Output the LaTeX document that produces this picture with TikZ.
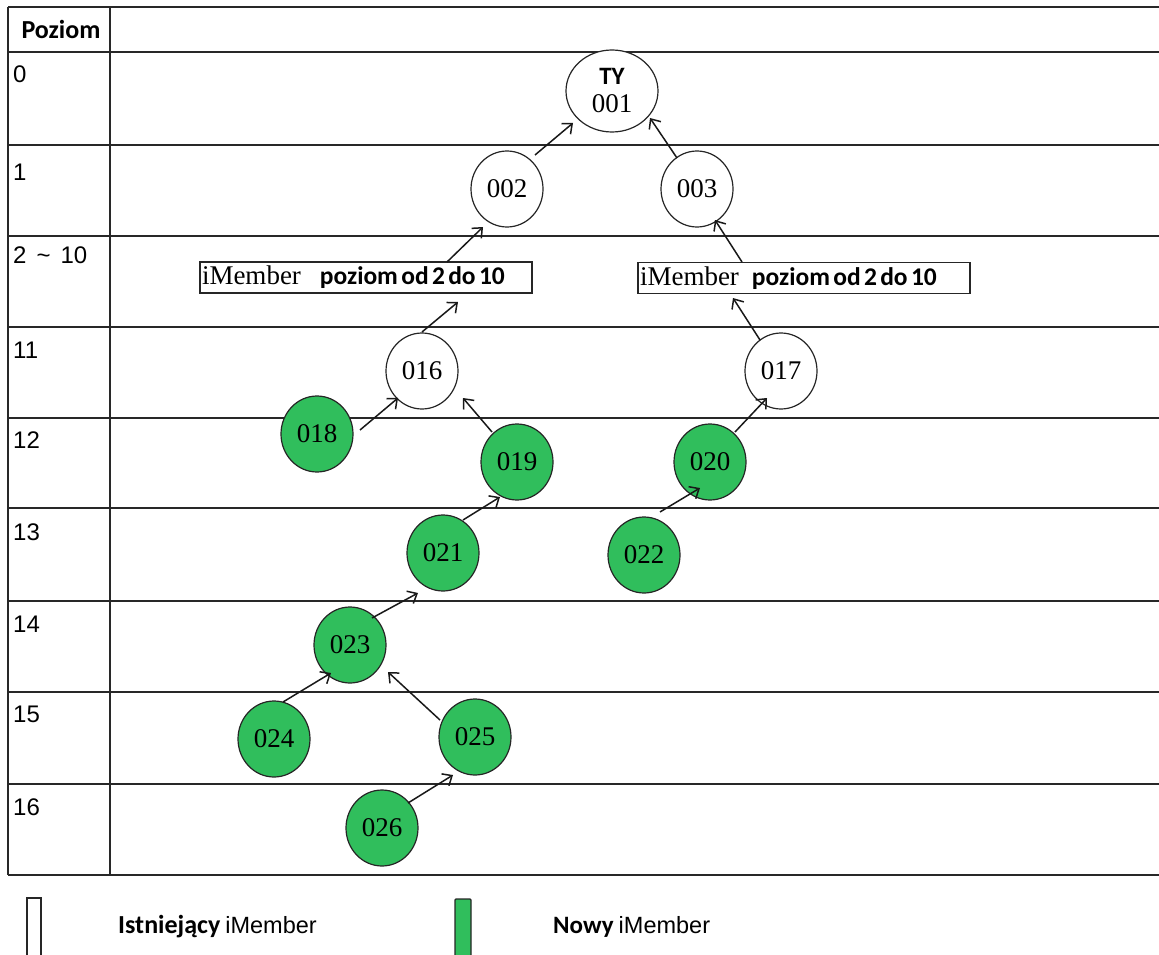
\documentclass[tikz,border=0pt]{standalone}
\usepackage{fontspec}
\setmainfont{Liberation Serif}
\newfontfamily\carl{Carlito}
\newfontfamily\ars{Liberation Sans}
\usetikzlibrary{shapes.geometric,arrows.meta,calc}
\definecolor{nodegreen}{RGB}{48,190,92}
\definecolor{gridline}{RGB}{40,40,40}
\begin{document}
\begin{tikzpicture}[x=1pt,y=-1pt,
  gridl/.style={line width=1.7pt,draw=gridline},
  oldnode/.style={ellipse,draw=black!85,line width=1.2pt,fill=white,minimum width=72pt,minimum height=76pt,inner sep=0pt,font=\fontsize{27}{27}\selectfont},
  newnode/.style={oldnode,fill=nodegreen},
  lvlbox/.style={rectangle,draw=black!85,line width=1.1pt,minimum height=31pt,inner xsep=2pt,inner ysep=0pt,text width=328pt,align=left},
  lvl/.style={anchor=base west,inner sep=0pt,font=\ars\fontsize{24}{24}\selectfont},
  arr/.style={-{Straight Barb[length=8pt,width=14pt]},line width=1.5pt,draw=black!90},
  legtxt/.style={anchor=base west,inner sep=0pt}]
\useasboundingbox (0,0) rectangle (1159,955);
% table grid
\foreach \yy in {7,52,145,236,327,418,508,601,692,784,875}
  \draw[gridl] (8,\yy) -- (1159,\yy);
\draw[gridl] (8,7) -- (8,875);
\draw[gridl] (110,7) -- (110,875);
% header and level labels
\node[inner sep=0pt,anchor=base,font=\carl\bfseries\fontsize{26}{26}\selectfont] (hdr) at (61,39) {Poziom};
\node[lvl] (l0) at (13,83) {0};
\node[lvl] (l1) at (13,180) {1};
\node[lvl] (l2) at (13,263) {2\hspace{10pt}\textasciitilde\hspace{10pt}10};
\node[lvl] (l11) at (13,358) {11};
\node[lvl] (l12) at (13,448) {12};
\node[lvl] (l13) at (13,540) {13};
\node[lvl] (l14) at (13,632) {14};
\node[lvl] (l15) at (13,722) {15};
\node[lvl] (l16) at (13,815) {16};
% boxes
\node[lvlbox] (boxL) at (366,277.5) {\fontsize{27}{27}\selectfont iMember\hspace{19pt}{\carl\bfseries\fontsize{25.5}{26}\selectfont poziom od 2 do 10}};
\node[lvlbox] (boxR) at (804,278) {\fontsize{27}{27}\selectfont iMember\hspace{13pt}{\carl\bfseries\fontsize{25.5}{26}\selectfont poziom od 2 do 10}};
% nodes
\node[oldnode,minimum width=92pt,minimum height=82pt,align=center] (n001) at (612,91)
  {{\carl\bfseries\fontsize{25}{25}\selectfont TY}\\[1pt]{\fontsize{27}{27}\selectfont 001}};
\node[oldnode] (n002) at (507,189) {002};
\node[oldnode] (n003) at (697,189) {003};
\node[oldnode] (n016) at (422,371) {016};
\node[oldnode] (n017) at (781,371) {017};
\node[newnode] (n018) at (317,434) {018};
\node[newnode] (n019) at (517,462) {019};
\node[newnode] (n020) at (710,462) {020};
\node[newnode] (n021) at (443,553) {021};
\node[newnode] (n022) at (644,555) {022};
\node[newnode] (n023) at (350,645) {023};
\node[newnode] (n024) at (274,739) {024};
\node[newnode] (n025) at (475,737) {025};
\node[newnode] (n026) at (382,828) {026};
% arrows
\draw[arr] ($(n002)+(28,-34)$) -- ($(n001)+(-39,32)$);
\draw[arr] ($(n003)+(-20,-31)$) -- ($(n001)+(38,27)$);
\draw[arr] ($(boxL)+(81,-15.5)$) -- ($(n002)+(-24,38)$);
\draw[arr] ($(boxR)+(-62,-16)$) -- ($(n003)+(18,31)$);
\draw[arr] ($(n016)+(0,-39)$) -- ($(boxL)+(92,24.5)$);
\draw[arr] ($(n017)+(-21,-31)$) -- ($(boxR)+(-71,20)$);
\draw[arr] ($(n018)+(43,-4)$) -- ($(n016)+(-24,27)$);
\draw[arr] ($(n019)+(-25,-30)$) -- ($(n016)+(41,27)$);
\draw[arr] ($(n020)+(25,-30)$) -- ($(n017)+(-14,27)$);
\draw[arr] ($(n022)+(16,-43)$) -- ($(n020)+(-10,26)$);
\draw[arr] ($(n021)+(20,-33)$) -- ($(n019)+(-17,35)$);
\draw[arr] ($(n023)+(22,-27)$) -- ($(n021)+(-25,40)$);
\draw[arr] ($(n024)+(9,-37)$) -- ($(n023)+(-19,28)$);
\draw[arr] ($(n025)+(-35,-17)$) -- ($(n023)+(38,27)$);
\draw[arr] ($(n026)+(26,-25)$) -- ($(n025)+(-22,38)$);
% legend
\draw[line width=1.1pt,draw=black!85,fill=white] (27,898) rectangle (41,962);
\node[legtxt] (legA) at (118,933) {{\carl\bfseries\fontsize{26}{26}\selectfont Istniejący}\hspace{5pt}{\ars\fontsize{23.5}{24}\selectfont iMember}};
\draw[line width=1.1pt,draw=black!85,fill=nodegreen,rounded corners=1pt] (455,899) rectangle (471,962);
\node[legtxt] (legB) at (553,933) {{\carl\bfseries\fontsize{25}{25}\selectfont Nowy}\hspace{5pt}{\ars\fontsize{23.5}{24}\selectfont iMember}};
\end{tikzpicture}
\end{document}
